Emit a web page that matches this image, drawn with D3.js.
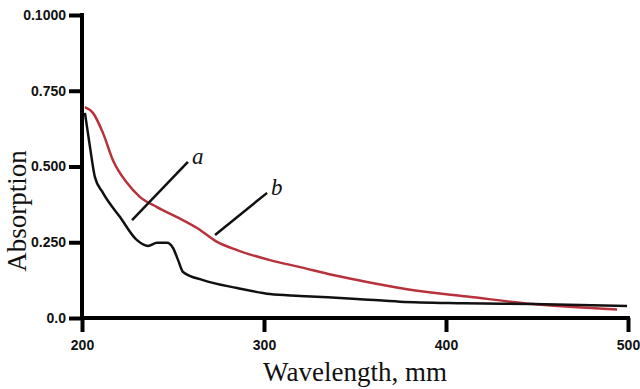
<!DOCTYPE html>
<html>
<head>
<meta charset="utf-8">
<script src="https://cdn.jsdelivr.net/npm/d3@7"></script>
<style>
  body { margin: 0; background: #fff; }
  .tick text { font-family: "Liberation Sans", Arial, sans-serif; font-weight: bold; font-size: 14px; fill: #111; }
  .title { font-family: "Liberation Serif", "Times New Roman", serif; font-size: 27px; fill: #111; }
  .lbl { font-family: "Liberation Serif", "Times New Roman", serif; font-style: italic; font-size: 23px; fill: #111; }
</style>
</head>
<body>
<svg width="640" height="389"></svg>
<script>
var svg = d3.select("svg");

// wavelength (nm) and absorption for curve a (black) and b (red)
var waveA = [201.6, 204.4, 207.1, 211.5, 220.9, 230.2, 236.3, 241.2, 246.7, 250, 252.8, 255.5, 266.5, 285.2, 303.3, 319.8, 351, 374.7, 410, 447.8, 499.5];
var absA  = [0.677, 0.564, 0.465, 0.413, 0.333, 0.257, 0.238, 0.248, 0.248, 0.231, 0.191, 0.152, 0.125, 0.099, 0.079, 0.073, 0.063, 0.054, 0.049, 0.046, 0.040];
var waveB = [201.6, 206.0, 211.5, 217.0, 224.7, 231.9, 241.2, 252.2, 263.2, 274.2, 285.2, 303.3, 319.8, 337.9, 356.6, 384.1, 411.6, 447.8, 470, 494.0];
var absB  = [0.696, 0.677, 0.611, 0.521, 0.446, 0.399, 0.366, 0.333, 0.297, 0.251, 0.224, 0.191, 0.168, 0.142, 0.119, 0.090, 0.071, 0.046, 0.036, 0.028];

var xTicks = [200, 300, 400, 500];
var yTicks = [0, 0.25, 0.5, 0.75, 1.0];
var yTickLabels = ["0.0", "0.250", "0.500", "0.750", "0.1000"];

// leader lines for the curve labels, in data units
var notes = [
  {name: "a", from: [227.5, 0.323], to: [258.2, 0.515]},
  {name: "b", from: [273.1, 0.274], to: [301.7, 0.413]}
];

var x = d3.scaleLinear().domain([200, 500]).range([82, 628]);
var y = d3.scaleLinear().domain([0, 1]).range([318, 15]);

var line = d3.line()
  .x(d => x(d[0]))
  .y(d => y(d[1]))
  .curve(d3.curveMonotoneX);

svg.append("path")
  .datum(d3.zip(waveB, absB))
  .attr("d", line)
  .attr("fill", "none")
  .attr("stroke", "#b8323c")
  .attr("stroke-width", 2.5);

svg.append("path")
  .datum(d3.zip(waveA, absA))
  .attr("d", line)
  .attr("fill", "none")
  .attr("stroke", "#111")
  .attr("stroke-width", 2.5);

notes.forEach(function(n) {
  svg.append("line")
    .attr("x1", x(n.from[0])).attr("y1", y(n.from[1]))
    .attr("x2", x(n.to[0])).attr("y2", y(n.to[1]))
    .attr("stroke", "#111")
    .attr("stroke-width", 2.5);
  svg.append("text")
    .attr("class", "lbl")
    .attr("x", x(n.to[0]) + 4)
    .attr("y", y(n.to[1]) + 2)
    .text(n.name);
});

var xAxis = svg.append("g")
  .attr("transform", "translate(0," + y(0) + ")")
  .call(d3.axisBottom(x).tickValues(xTicks).tickFormat(d3.format("d")).tickSize(14).tickSizeOuter(0).tickPadding(6));

var yAxis = svg.append("g")
  .attr("transform", "translate(" + x(200) + ",0)")
  .call(d3.axisLeft(y).tickValues(yTicks).tickFormat((d, i) => yTickLabels[i]).tickSize(13).tickSizeOuter(0).tickPadding(3));

[xAxis, yAxis].forEach(function(a) {
  a.select(".domain").attr("stroke", "#000").attr("stroke-width", 4);
  a.selectAll(".tick line").attr("stroke", "#000").attr("stroke-width", 4);
});
xAxis.select(".domain").attr("d", "M80,0H630");
yAxis.select(".domain").attr("d", "M0,13V320");
xAxis.selectAll(".tick text").attr("dy", "0.85em");

svg.append("text")
  .attr("class", "title")
  .attr("text-anchor", "middle")
  .attr("x", 355)
  .attr("y", 381)
  .text("Wavelength, mm");

svg.append("text")
  .attr("class", "title")
  .attr("text-anchor", "middle")
  .attr("transform", "translate(26,211) rotate(-90)")
  .text("Absorption");
</script>
</body>
</html>
